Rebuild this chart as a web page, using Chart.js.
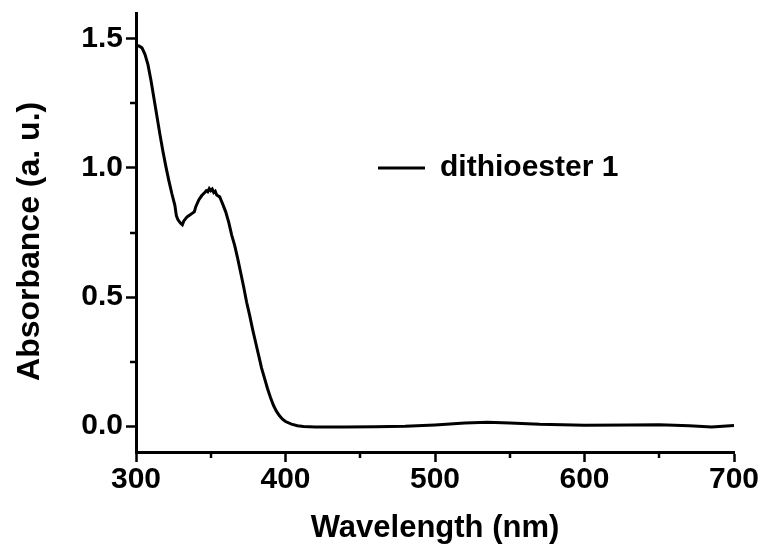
<!DOCTYPE html>
<html>
<head>
<meta charset="utf-8">
<script src="https://cdn.jsdelivr.net/npm/chart.js@4/dist/chart.umd.min.js"></script>
<style>
  html, body { margin: 0; padding: 0; background: #fff; }
  #wrap { width: 765px; height: 551px; position: relative; }
</style>
</head>
<body>
<div id="wrap"><canvas id="c"></canvas></div>
<script>
// ---- data ----
const seriesName = 'dithioester 1';
const wavelength = [
  300, 302, 304, 306, 308, 310, 312, 314, 316, 318,
  320, 322, 324, 326, 327, 328, 329, 330, 331, 332,
  334, 336, 338, 339, 340, 342, 344, 346, 347, 348,
  349, 350, 351, 352, 353, 354, 356, 357, 358, 360,
  362, 364, 366, 368, 370, 372, 374, 376, 378, 380,
  382, 384, 386, 388, 390, 392, 394, 396, 398, 400,
  404, 408, 412, 420, 440, 460, 480, 500, 520, 535,
  550, 570, 600, 630, 650, 670, 685, 695, 700
];
const absorbance = [
  1.474, 1.472, 1.465, 1.440, 1.400, 1.340, 1.270, 1.200, 1.130, 1.065,
  1.005, 0.950, 0.900, 0.855, 0.815, 0.800, 0.792, 0.785, 0.780, 0.795,
  0.810, 0.818, 0.826, 0.830, 0.850, 0.876, 0.893, 0.905, 0.912, 0.908,
  0.920, 0.912, 0.918, 0.905, 0.910, 0.895, 0.888, 0.874, 0.860, 0.830,
  0.790, 0.740, 0.700, 0.650, 0.595, 0.540, 0.480, 0.430, 0.375, 0.325,
  0.275, 0.225, 0.185, 0.145, 0.110, 0.080, 0.057, 0.040, 0.027, 0.018,
  0.008, 0.002, -0.001, -0.003, -0.003, -0.002, 0.000, 0.005, 0.012, 0.015,
  0.012, 0.007, 0.004, 0.005, 0.006, 0.002, -0.003, 0.001, 0.003
];
const xMajorTicks = [300, 400, 500, 600, 700];
const xTickLabels = ['300', '400', '500', '600', '700'];
const xMinorTicks = [350, 450, 550, 650];
const yMajorTicks = [0, 0.5, 1.0, 1.5];
const yTickLabels = ['0.0', '0.5', '1.0', '1.5'];
const yMinorTicks = [0.25, 0.75, 1.25];
const xRange = [300, 700];
const yRange = [-0.1, 1.6];
const xTitle = 'Wavelength (nm)';
const yTitle = 'Absorbance (a. u.)  ';

// ---- chart ----
const FONT = '"Liberation Sans", Arial, sans-serif';
const points = wavelength.map((w, i) => ({ x: w, y: absorbance[i] }));

function tickList(major) {
  return major.map(v => ({ value: v }));
}
function labelFor(major, labels) {
  return function (value) {
    const i = major.findIndex(m => Math.abs(m - value) < 1e-9);
    return i >= 0 ? labels[i] : '';
  };
}

const minorTickPlugin = {
  id: 'minorTicks',
  afterLayout(chart) {
    const lg = chart.legend;
    if (lg) {
      const w = lg.right - lg.left, h = lg.bottom - lg.top;
      lg.left = 378; lg.top = 153;
      lg.right = lg.left + w; lg.bottom = lg.top + h;
    }
  },
  afterDraw(chart) {
    const ctx = chart.ctx;
    const xs = chart.scales.x, ys = chart.scales.y;
    ctx.save();
    ctx.strokeStyle = '#000';
    ctx.lineWidth = 2.5;
    ctx.beginPath();
    xMinorTicks.forEach(v => {
      const px = Math.round(xs.getPixelForValue(v));
      ctx.moveTo(px, xs.top);
      ctx.lineTo(px, xs.top + 6);
    });
    yMinorTicks.forEach(v => {
      const py = Math.round(ys.getPixelForValue(v));
      ctx.moveTo(ys.right, py);
      ctx.lineTo(ys.right - 6, py);
    });
    ctx.stroke();
    ctx.restore();
  }
};

new Chart(document.getElementById('c'), {
  type: 'scatter',
  data: {
    datasets: [{
      label: seriesName,
      data: points,
      showLine: true,
      borderColor: '#000',
      backgroundColor: '#000',
      borderWidth: 3,
      pointRadius: 0,
      pointHoverRadius: 0,
      tension: 0,
      pointStyle: 'line'
    }]
  },
  options: {
    responsive: true,
    maintainAspectRatio: false,
    animation: false,
    events: [],
    layout: { padding: { left: 0, top: 13, right: 31, bottom: 0 } },
    plugins: {
      tooltip: { enabled: false },
      legend: {
        position: 'chartArea',
        align: 'start',
        labels: {
          usePointStyle: true,
          pointStyle: 'line',
          pointStyleWidth: 47,
          boxWidth: 47,
          padding: 0,
          color: '#000',
          font: { family: FONT, size: 30, weight: 'bold' }
        }
      }
    },
    scales: {
      x: {
        type: 'linear',
        min: xRange[0], max: xRange[1],
        afterBuildTicks: s => { s.ticks = tickList(xMajorTicks); },
        afterFit: s => { s.height = 99; s.paddingLeft = 0; s.paddingRight = 0; },
        border: { display: true, color: '#000', width: 3 },
        grid: {
          drawOnChartArea: false, drawTicks: true,
          tickLength: 10, tickWidth: 2.5, tickColor: '#000'
        },
        ticks: {
          autoSkip: false, maxRotation: 0, padding: 0, color: '#000',
          font: { family: FONT, size: 30, weight: 'bold' },
          callback: labelFor(xMajorTicks, xTickLabels)
        },
        title: {
          display: true, text: xTitle, color: '#000',
          font: { family: FONT, size: 31, weight: 'bold' },
          padding: { top: 0, bottom: 4 }
        }
      },
      y: {
        type: 'linear',
        min: yRange[0], max: yRange[1],
        afterBuildTicks: s => { s.ticks = tickList(yMajorTicks); },
        afterFit: s => { s.width = 136; s.paddingTop = 0; s.paddingBottom = 0; },
        border: { display: true, color: '#000', width: 3 },
        grid: {
          drawOnChartArea: false, drawTicks: true,
          tickLength: 10, tickWidth: 2.5, tickColor: '#000'
        },
        ticks: {
          autoSkip: false, padding: 3, color: '#000',
          font: { family: FONT, size: 30, weight: 'bold' },
          callback: labelFor(yMajorTicks, yTickLabels)
        },
        title: {
          display: true, text: yTitle, color: '#000',
          font: { family: FONT, size: 32, weight: 'bold' },
          padding: { top: 11, bottom: 0 }
        }
      }
    }
  },
  plugins: [minorTickPlugin]
});
</script>
</body>
</html>
